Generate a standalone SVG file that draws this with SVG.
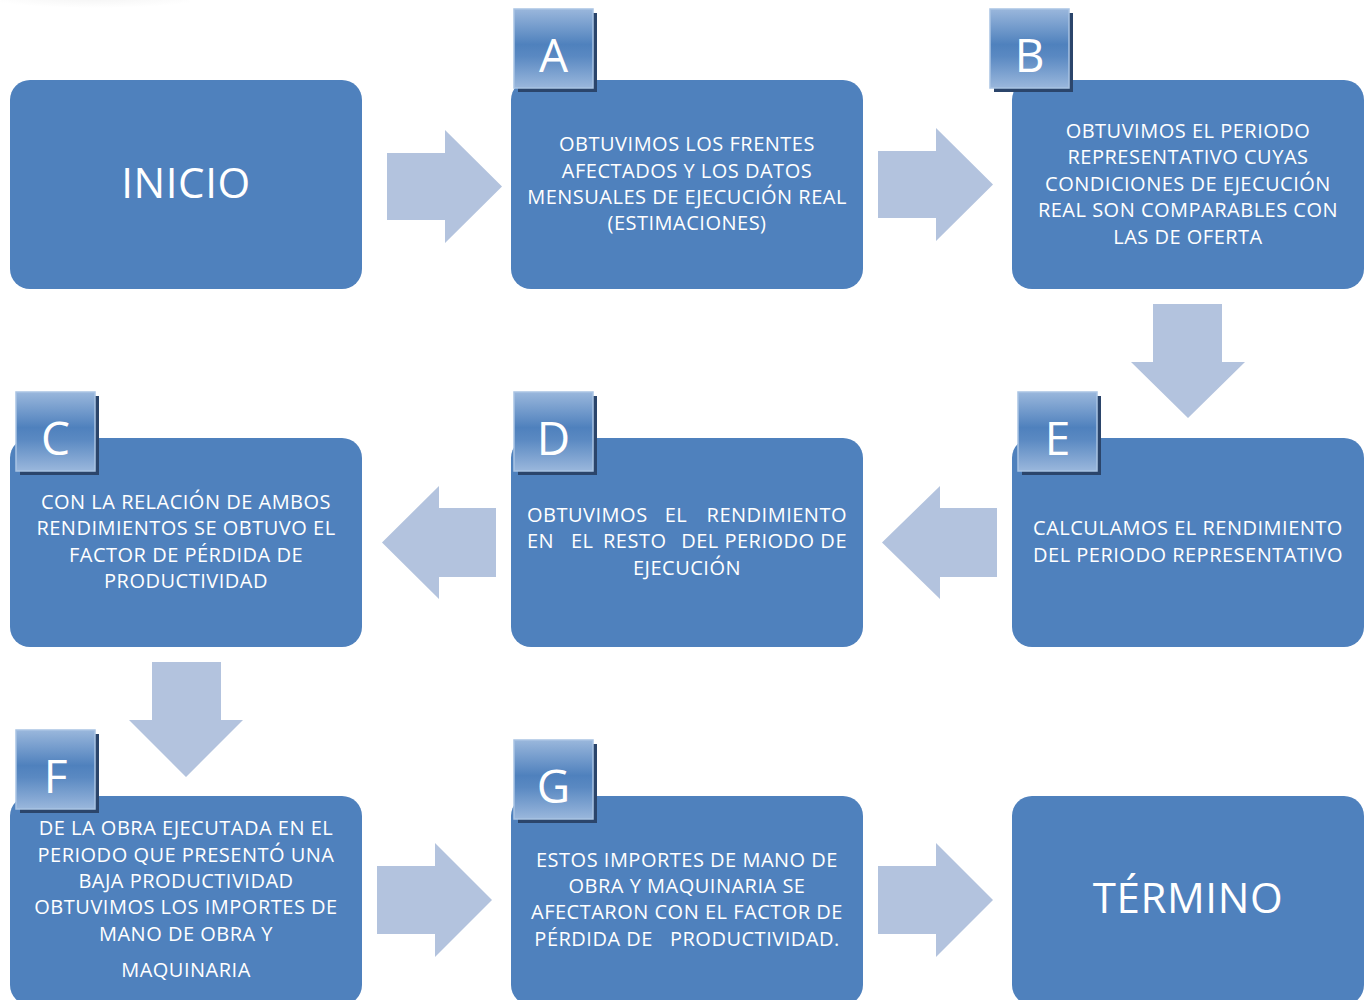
<svg xmlns="http://www.w3.org/2000/svg" width="1369" height="1000" viewBox="0 0 1369 1000">
<defs>
<linearGradient id="bg" x1="0" y1="0" x2="0" y2="1">
<stop offset="0" stop-color="#9ab7dc"/>
<stop offset="0.45" stop-color="#4f81bd"/>
<stop offset="0.6" stop-color="#5a89c2"/>
<stop offset="1" stop-color="#9ab7dc"/>
</linearGradient>
<radialGradient id="smudge" cx="0.5" cy="0.2" r="0.6">
<stop offset="0" stop-color="#f2f2f2"/>
<stop offset="1" stop-color="#ffffff"/>
</radialGradient>
</defs>
<style>
.box{fill:#4f81bd;}
.t{fill:#ffffff;font-family:"Open Sans","Liberation Sans",sans-serif;font-size:20px;letter-spacing:0.5px;text-anchor:middle;white-space:pre;}
.big{font-size:42px;letter-spacing:0.6px;}
.shadow{fill:#2b456b;}
.badge{fill:url(#bg);stroke:#a9c3e3;stroke-width:1.5;}
.bl{fill:#ffffff;font-family:"Open Sans","Liberation Sans",sans-serif;font-size:46px;text-anchor:middle;}
.arrow{fill:#b3c3de;}
.s{text-anchor:start;}
.e{text-anchor:end;}
</style>
<rect width="1369" height="1000" fill="#ffffff"/>
<ellipse cx="95" cy="2" rx="95" ry="10" fill="url(#smudge)"/>

<g id="connectors">
<polygon class="arrow" points="387,153 445,153 445,130 502,186.5 445,243 445,220 387,220"/>
<polygon class="arrow" points="878,151 936,151 936,128 993,184.5 936,241 936,218 878,218"/>
<polygon class="arrow" points="1153,304 1222,304 1222,362 1245,362 1188,418 1131,362 1153,362"/>
<polygon class="arrow" points="997,508 940,508 940,486 882,542.5 940,599 940,577 997,577"/>
<polygon class="arrow" points="496,508 439,508 439,486 382,542.5 439,599 439,577 496,577"/>
<polygon class="arrow" points="152,662 221,662 221,720 243,720 186,777 129,720 152,720"/>
<polygon class="arrow" points="377,866 435,866 435,843 492,900 435,957 435,934 377,934"/>
<polygon class="arrow" points="878,866 936,866 936,843 993,900 936,957 936,934 878,934"/>
</g>

<g id="inicio">
<rect class="box" x="10" y="80" width="352" height="209" rx="20"/>
<text class="t big" x="186" y="198">INICIO</text>
</g>

<g id="nodeA">
<rect class="box" x="511" y="80" width="352" height="209" rx="20"/>
<rect class="shadow" x="518" y="13" width="79" height="79"/>
<rect class="badge" x="514" y="9" width="79" height="79"/>
<text class="bl" x="553.5" y="72">A</text>
<text class="t" x="687" y="151">OBTUVIMOS LOS FRENTES</text>
<text class="t" x="687" y="178">AFECTADOS Y LOS DATOS</text>
<text class="t" x="687" y="204">MENSUALES DE EJECUCIÓN REAL</text>
<text class="t" x="687" y="230">(ESTIMACIONES)</text>
</g>

<g id="nodeB">
<rect class="box" x="1012" y="80" width="352" height="209" rx="20"/>
<rect class="shadow" x="994" y="13" width="79" height="79"/>
<rect class="badge" x="990" y="9" width="79" height="79"/>
<text class="bl" x="1029.5" y="72">B</text>
<text class="t" x="1188" y="138">OBTUVIMOS EL PERIODO</text>
<text class="t" x="1188" y="164">REPRESENTATIVO CUYAS</text>
<text class="t" x="1188" y="191">CONDICIONES DE EJECUCIÓN</text>
<text class="t" x="1188" y="217">REAL SON COMPARABLES CON</text>
<text class="t" x="1188" y="244">LAS DE OFERTA</text>
</g>

<g id="nodeC">
<rect class="box" x="10" y="438" width="352" height="209" rx="20"/>
<rect class="shadow" x="20" y="396" width="79" height="79"/>
<rect class="badge" x="16" y="392" width="79" height="79"/>
<text class="bl" x="55.5" y="455">C</text>
<text class="t" x="186" y="509">CON LA RELACIÓN DE AMBOS</text>
<text class="t" x="186" y="535">RENDIMIENTOS SE OBTUVO EL</text>
<text class="t" x="186" y="562">FACTOR DE PÉRDIDA DE</text>
<text class="t" x="186" y="588">PRODUCTIVIDAD</text>
</g>

<g id="nodeD">
<rect class="box" x="511" y="438" width="352" height="209" rx="20"/>
<rect class="shadow" x="518" y="396" width="79" height="79"/>
<rect class="badge" x="514" y="392" width="79" height="79"/>
<text class="bl" x="553.5" y="455">D</text>
<text class="t s" x="527" y="522">OBTUVIMOS</text>
<text class="t" x="676" y="522">EL</text>
<text class="t e" x="847" y="522">RENDIMIENTO</text>
<text class="t s" x="527" y="548">EN</text>
<text class="t s" x="571" y="548">EL</text>
<text class="t s" x="603" y="548">RESTO</text>
<text class="t e" x="847" y="548">DEL PERIODO DE</text>
<text class="t" x="687" y="575">EJECUCIÓN</text>
</g>

<g id="nodeE">
<rect class="box" x="1012" y="438" width="352" height="209" rx="20"/>
<rect class="shadow" x="1022" y="396" width="79" height="79"/>
<rect class="badge" x="1018" y="392" width="79" height="79"/>
<text class="bl" x="1057.5" y="455">E</text>
<text class="t" x="1188" y="535">CALCULAMOS EL RENDIMIENTO</text>
<text class="t" x="1188" y="562">DEL PERIODO REPRESENTATIVO</text>
</g>

<g id="nodeF">
<rect class="box" x="10" y="796" width="352" height="209" rx="20"/>
<rect class="shadow" x="20" y="734" width="79" height="79"/>
<rect class="badge" x="16" y="730" width="79" height="79"/>
<text class="bl" x="55.5" y="793">F</text>
<text class="t" x="186" y="835">DE LA OBRA EJECUTADA EN EL</text>
<text class="t" x="186" y="862">PERIODO QUE PRESENTÓ UNA</text>
<text class="t" x="186" y="888">BAJA PRODUCTIVIDAD</text>
<text class="t" x="186" y="914">OBTUVIMOS LOS IMPORTES DE</text>
<text class="t" x="186" y="941">MANO DE OBRA Y</text>
<text class="t" x="186" y="977">MAQUINARIA</text>
</g>

<g id="nodeG">
<rect class="box" x="511" y="796" width="352" height="209" rx="20"/>
<rect class="shadow" x="518" y="744" width="79" height="79"/>
<rect class="badge" x="514" y="740" width="79" height="79"/>
<text class="bl" x="553.5" y="803">G</text>
<text class="t" x="687" y="867">ESTOS IMPORTES DE MANO DE</text>
<text class="t" x="687" y="893">OBRA Y MAQUINARIA SE</text>
<text class="t" x="687" y="919">AFECTARON CON EL FACTOR DE</text>
<text class="t" x="687" y="946">PÉRDIDA DE   PRODUCTIVIDAD.</text>
</g>

<g id="termino">
<rect class="box" x="1012" y="796" width="352" height="209" rx="20"/>
<text class="t big" x="1188" y="913">TÉRMINO</text>
</g>
</svg>
